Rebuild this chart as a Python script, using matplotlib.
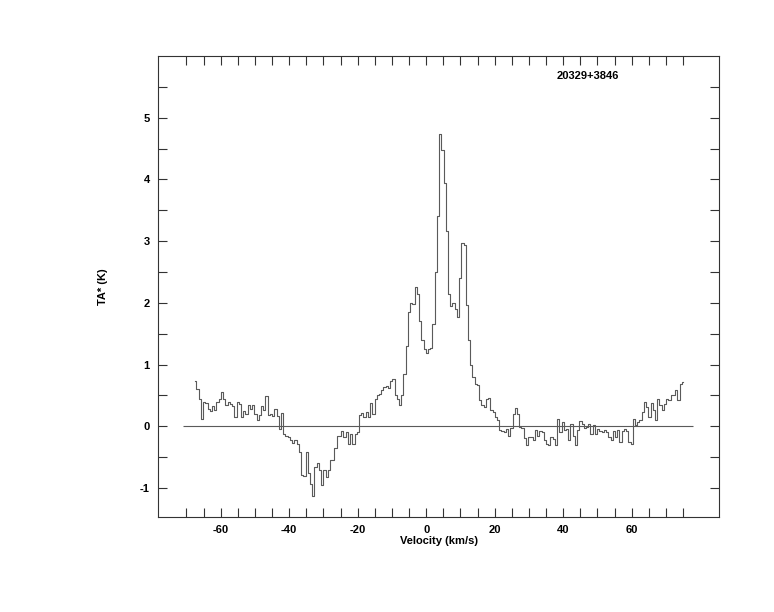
import numpy as np
import matplotlib
matplotlib.use("Agg")
import matplotlib.pyplot as plt

# ----------------------------
# Data
# ----------------------------
SOURCE = "20329+3846"
V_START = -67.4   # km/s, first channel
DV = 0.65         # km/s, channel width

TA = [
    0.73, 0.60, 0.45, 0.12, 0.39, 0.37, 0.28, 0.24, 0.33, 0.27,
    0.40, 0.45, 0.56, 0.45, 0.35, 0.40, 0.36, 0.33, 0.15, 0.40,
    0.36, 0.15, 0.25, 0.20, 0.34, 0.28, 0.34, 0.20, 0.10, 0.18,
    0.33, 0.26, 0.49, 0.18, 0.20, 0.16, 0.28, 0.17, -0.04, 0.22,
    -0.12, -0.15, -0.17, -0.23, -0.27, -0.23, -0.28, -0.42, -0.79, -0.80,
    -0.42, -0.75, -0.93, -1.13, -0.66, -0.60, -0.71, -0.95, -0.71, -0.82,
    -0.71, -0.55, -0.54, -0.35, -0.15, -0.16, -0.08, -0.17, -0.09, -0.28,
    -0.12, -0.28, -0.12, -0.10, 0.18, 0.22, 0.15, 0.23, 0.15, 0.37,
    0.20, 0.45, 0.50, 0.52, 0.58, 0.64, 0.66, 0.62, 0.74, 0.77,
    0.50, 0.45, 0.34, 0.50, 0.85, 1.30, 1.85, 2.00, 1.98, 2.25,
    2.15, 1.70, 1.40, 1.25, 1.18, 1.26, 1.27, 1.65, 2.50, 3.40,
    4.74, 4.47, 3.95, 3.17, 2.15, 1.95, 2.00, 1.90, 1.77, 2.40,
    2.97, 2.93, 1.96, 1.39, 0.99, 0.80, 0.69, 0.67, 0.42, 0.34,
    0.31, 0.45, 0.46, 0.26, 0.23, 0.15, 0.10, -0.06, -0.07, -0.09,
    -0.05, -0.15, -0.02, 0.20, 0.29, 0.20, -0.01, -0.02, -0.19, -0.31,
    -0.17, -0.18, -0.22, -0.06, -0.15, -0.08, -0.09, -0.23, -0.29, -0.31,
    -0.17, -0.20, -0.31, 0.11, -0.09, 0.07, -0.06, -0.04, -0.23, 0.04,
    -0.15, -0.31, -0.06, 0.09, 0.04, -0.02, -0.01, 0.04, -0.12, 0.02,
    -0.12, -0.04, -0.08, -0.10, -0.06, -0.10, -0.17, -0.22, -0.07, -0.17,
    -0.06, -0.25, -0.07, -0.05, -0.08, -0.25, -0.29, 0.11, 0.02, 0.07,
    0.10, 0.23, 0.40, 0.31, 0.15, 0.38, 0.26, 0.10, 0.44, 0.34,
    0.26, 0.36, 0.45, 0.43, 0.50, 0.50, 0.58, 0.42, 0.68, 0.72,
]

BASELINE_V = [-71, 78]   # extent of the zero line

XTICKS = list(range(-70, 76, 5))
XTICK_LABELS = [str(t) if t % 20 == 0 else "" for t in XTICKS]
YTICKS = [-1.0, -0.5, 0.0, 0.5, 1.0, 1.5, 2.0, 2.5, 3.0, 3.5, 4.0, 4.5, 5.0, 5.5]
YTICK_LABELS = [str(int(t)) if t == int(t) else "" for t in YTICKS]

# ----------------------------
# Plot
# ----------------------------
plt.rcParams["font.family"] = ["Liberation Sans", "DejaVu Sans"]
plt.rcParams["font.weight"] = "bold"
plt.rcParams["font.size"] = 8

ta = np.array(TA)
vel = V_START + DV * np.arange(len(ta))

fig = plt.figure(figsize=(7.74, 6.12), dpi=100)
ax = fig.add_axes([158 / 774, 1 - 517 / 612, (719 - 158) / 774, (517 - 56) / 612])

line_col = "#5a5a5a"
ax.step(vel, ta, where="mid", color=line_col, lw=0.8)
ax.hlines(0, BASELINE_V[0], BASELINE_V[1], color=line_col, lw=0.8)

ax.set_xlim(-78.3, 85.5)
ax.set_ylim(-1.47, 6.0)

ax.set_xticks(XTICKS)
ax.set_xticklabels(XTICK_LABELS)
ax.set_yticks(YTICKS)
ax.set_yticklabels(YTICK_LABELS)
ax.tick_params(direction="in", length=6.5, width=0.8, color="#333333",
               top=True, right=True, pad=6, labelsize=8)

for sp in ax.spines.values():
    sp.set_linewidth(0.8)
    sp.set_color("#333333")

ax.set_xlabel("Velocity (km/s)", fontsize=8, fontweight="bold")
ax.xaxis.set_label_coords(0.5, -0.041)
ax.set_ylabel("TA* (K)", fontsize=8, fontweight="bold")
ax.yaxis.set_label_coords(-0.09, 0.5)

ax.text(0.711, 0.957, SOURCE, transform=ax.transAxes, fontsize=8,
        fontweight="bold", ha="left", va="center")

fig.savefig("out.png", dpi=100)
plt.close(fig)
